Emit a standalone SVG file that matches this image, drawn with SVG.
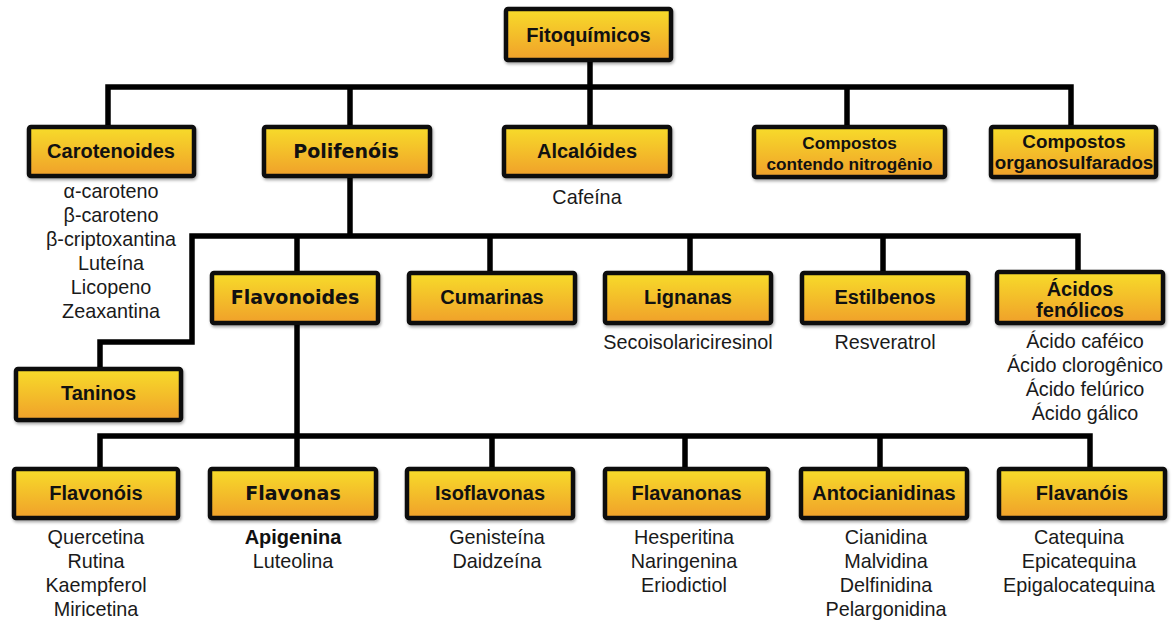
<svg xmlns="http://www.w3.org/2000/svg" width="1175" height="621" viewBox="0 0 1175 621">
<defs>
<linearGradient id="g" x1="0" y1="0" x2="0" y2="1">
<stop offset="0" stop-color="#F7DC2B"/>
<stop offset="1" stop-color="#F0A02C"/>
</linearGradient>
<filter id="sh" x="-10%" y="-20%" width="125%" height="150%">
<feDropShadow dx="1" dy="2" stdDeviation="1.6" flood-color="#000" flood-opacity="0.35"/>
</filter>
</defs>
<style>
.box{fill:url(#g);stroke:#111;stroke-width:4.5;filter:url(#sh)}
.lbl{font-family:"Liberation Sans",Arial,sans-serif;font-weight:bold;font-size:20px;fill:#111;text-anchor:middle}
.hv{font-family:"DejaVu Sans",Verdana,sans-serif;font-weight:bold;font-size:19px;fill:#111;text-anchor:middle}
.sub{font-family:"Liberation Sans",Arial,sans-serif;font-size:19.8px;fill:#1a1a1a;text-anchor:middle}
.con{fill:none;stroke:#000;stroke-width:5.5;stroke-linejoin:miter;stroke-linecap:butt}
</style>
<g id="connectors" class="con">
<path d="M590,62V87"/>
<path d="M108,125V87H1071V125"/>
<path d="M350,87V125M590,87V125M847,87V125"/>
<path d="M350,178V236"/>
<path d="M1078,270V236H192V342H100V367"/>
<path d="M297,236V271M490,236V271M690,236V271M883,236V271"/>
<path d="M297,325V467"/>
<path d="M100,467V436H1090V467"/>
<path d="M492,436V467M685,436V467M880,436V467"/>
</g>
<g id="fitoquimicos"><rect class="box" x="506" y="9" width="165" height="51" rx="2"/><text class="lbl" x="588.5" y="42">Fitoquímicos</text></g>
<g id="carotenoides"><rect class="box" x="29" y="127" width="165" height="49" rx="2"/><text class="lbl" x="111" y="158">Carotenoides</text>
<text class="sub" x="111" y="198">α-caroteno</text><text class="sub" x="111" y="222">β-caroteno</text><text class="sub" x="111" y="246">β-criptoxantina</text><text class="sub" x="111" y="270">Luteína</text><text class="sub" x="111" y="294">Licopeno</text><text class="sub" x="111" y="318">Zeaxantina</text></g>
<g id="polifenois"><rect class="box" x="264" y="127" width="166" height="49" rx="2"/><text class="hv" x="346" y="158">Polifenóis</text></g>
<g id="alcaloides"><rect class="box" x="504" y="127" width="166" height="49" rx="2"/><text class="lbl" x="587" y="158">Alcalóides</text><text class="sub" x="587" y="204">Cafeína</text></g>
<g id="nitrogenio"><rect class="box" x="754" y="127" width="191" height="50" rx="2"/><text class="lbl" style="font-size:17.2px" x="849.5" y="149">Compostos</text><text class="lbl" style="font-size:17.2px" x="849.5" y="170">contendo nitrogênio</text></g>
<g id="organosulfurados"><rect class="box" x="991" y="127" width="165" height="50" rx="2"/><text class="lbl" style="font-size:18.8px" x="1074" y="148">Compostos</text><text class="lbl" style="font-size:18.8px" x="1074" y="169">organosulfarados</text></g>
<g id="flavonoides"><rect class="box" x="212" y="273" width="166" height="50" rx="2"/><text class="hv" x="295" y="304">Flavonoides</text></g>
<g id="cumarinas"><rect class="box" x="409" y="273" width="166" height="50" rx="2"/><text class="lbl" x="492" y="304">Cumarinas</text></g>
<g id="lignanas"><rect class="box" x="605" y="273" width="166" height="50" rx="2"/><text class="lbl" x="688" y="304">Lignanas</text><text class="sub" x="688" y="349">Secoisolariciresinol</text></g>
<g id="estilbenos"><rect class="box" x="802" y="273" width="166" height="50" rx="2"/><text class="lbl" x="885" y="304">Estilbenos</text><text class="sub" x="885" y="349">Resveratrol</text></g>
<g id="acidos"><rect class="box" x="997" y="272" width="166" height="51" rx="2"/><text class="lbl" x="1080" y="296">Ácidos</text><text class="lbl" x="1080" y="317">fenólicos</text>
<text class="sub" x="1085" y="348">Ácido caféico</text><text class="sub" x="1085" y="372">Ácido clorogênico</text><text class="sub" x="1085" y="396">Ácido felúrico</text><text class="sub" x="1085" y="420">Ácido gálico</text></g>
<g id="taninos"><rect class="box" x="16" y="369" width="165" height="51" rx="2"/><text class="lbl" x="98.5" y="400">Taninos</text></g>
<g id="flavonois"><rect class="box" x="14" y="469" width="164" height="49" rx="2"/><text class="lbl" x="96" y="500">Flavonóis</text>
<text class="sub" x="96" y="544">Quercetina</text><text class="sub" x="96" y="568">Rutina</text><text class="sub" x="96" y="592">Kaempferol</text><text class="sub" x="96" y="616">Miricetina</text></g>
<g id="flavonas"><rect class="box" x="210" y="469" width="166" height="49" rx="2"/><text class="hv" x="293" y="500">Flavonas</text>
<text class="lbl" x="293" y="544">Apigenina</text><text class="sub" x="293" y="568">Luteolina</text></g>
<g id="isoflavonas"><rect class="box" x="407" y="469" width="166" height="49" rx="2"/><text class="lbl" x="490" y="500">Isoflavonas</text>
<text class="sub" x="497" y="544">Genisteína</text><text class="sub" x="497" y="568">Daidzeína</text></g>
<g id="flavanonas"><rect class="box" x="605" y="469" width="163" height="49" rx="2"/><text class="lbl" x="686.5" y="500">Flavanonas</text>
<text class="sub" x="684" y="544">Hesperitina</text><text class="sub" x="684" y="568">Naringenina</text><text class="sub" x="684" y="592">Eriodictiol</text></g>
<g id="antocianidinas"><rect class="box" x="801" y="469" width="166" height="49" rx="2"/><text class="lbl" x="884" y="500">Antocianidinas</text>
<text class="sub" x="886" y="544">Cianidina</text><text class="sub" x="886" y="568">Malvidina</text><text class="sub" x="886" y="592">Delfinidina</text><text class="sub" x="886" y="616">Pelargonidina</text></g>
<g id="flavanois"><rect class="box" x="999" y="469" width="166" height="49" rx="2"/><text class="lbl" x="1082" y="500">Flavanóis</text>
<text class="sub" x="1079" y="544">Catequina</text><text class="sub" x="1079" y="568">Epicatequina</text><text class="sub" x="1079" y="592">Epigalocatequina</text></g>
</svg>
